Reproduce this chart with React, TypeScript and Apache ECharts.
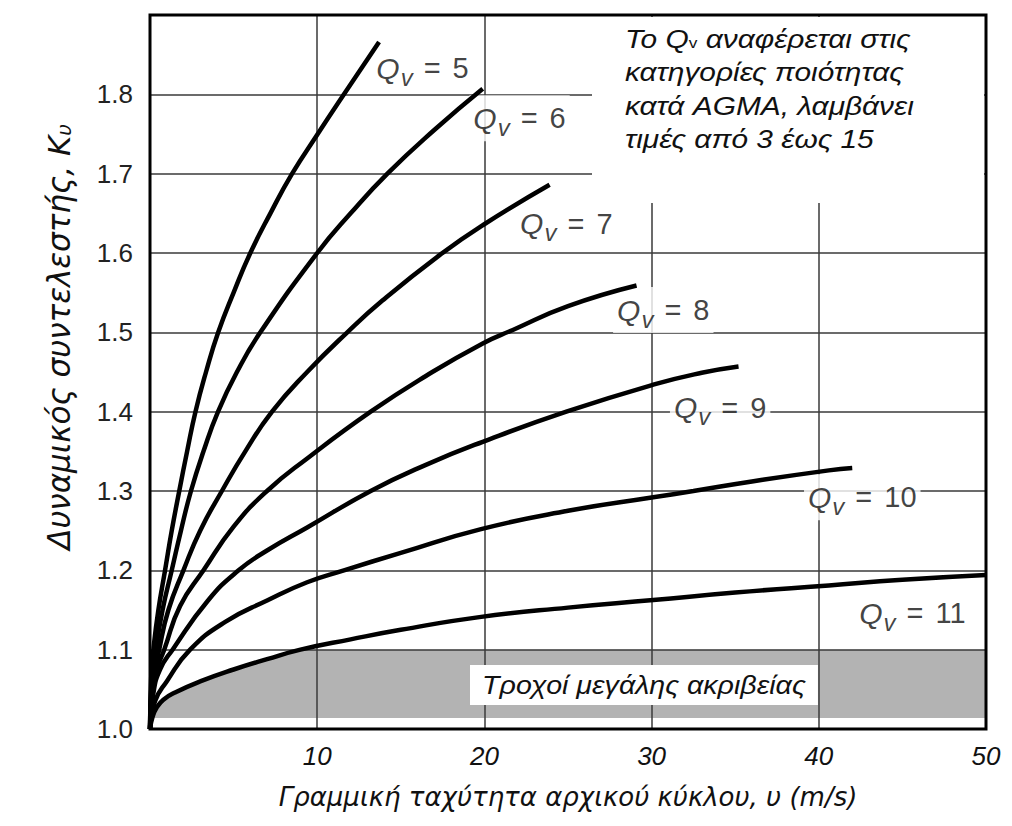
import React, { useEffect, useRef } from "react";
import * as echarts from "echarts";

// ---- data ----
const QV_LEVELS = [5, 6, 7, 8, 9, 10, 11];

const QV5: [number, number][] = [
  [0, 1], [0.08, 1.07], [0.2, 1.1], [0.5, 1.15], [0.9, 1.2], [1.3, 1.25], [1.75, 1.3],
  [2.22, 1.35], [2.72, 1.4], [3.35, 1.45], [4.08, 1.5], [5.0, 1.55], [6.0, 1.6],
  [7.2, 1.65], [8.5, 1.7], [10.0, 1.749], [11.6, 1.8], [13.7, 1.866],
];
const QV6: [number, number][] = [
  [0, 1], [0.1, 1.06], [0.35, 1.1], [0.75, 1.15], [1.3, 1.2], [1.85, 1.25], [2.45, 1.3],
  [3.2, 1.35], [4.07, 1.4], [5.2, 1.45], [6.6, 1.5], [10.0, 1.6], [12.0, 1.65],
  [14.2, 1.7], [17.0, 1.755], [19.9, 1.807],
];
const QV7: [number, number][] = [
  [0, 1], [0.12, 1.05], [0.55, 1.1], [1.1, 1.15], [2.0, 1.2], [3.0, 1.25], [4.3, 1.3],
  [5.7, 1.35], [7.3, 1.4], [9.4, 1.45], [11.8, 1.5], [13.9, 1.54], [17.3, 1.597],
  [19.9, 1.635], [23.9, 1.686],
];
const QV8: [number, number][] = [
  [0, 1], [0.15, 1.05], [0.4, 1.075], [0.85, 1.1], [1.8, 1.155], [3.2, 1.2], [5.0, 1.255],
  [7.0, 1.3], [9.4, 1.341], [13.2, 1.4], [16.5, 1.445], [19.9, 1.486], [21.7, 1.503],
  [25.0, 1.533], [29.1, 1.559],
];
const QV9: [number, number][] = [
  [0, 1], [0.2, 1.045], [0.6, 1.075], [1.35, 1.1], [3.47, 1.162], [5.3, 1.2], [7.0, 1.225],
  [9.4, 1.254], [13.2, 1.3], [16.5, 1.333], [19.9, 1.362], [24.9, 1.4], [30.1, 1.434],
  [33.0, 1.449], [35.2, 1.457],
];
const QV10: [number, number][] = [
  [0, 1], [0.3, 1.035], [1.0, 1.06], [2.4, 1.1], [4.5, 1.135], [7.0, 1.162], [9.4, 1.185],
  [11.6, 1.2], [15.0, 1.222], [19.8, 1.252], [25.0, 1.275], [30.1, 1.292], [32.5, 1.3],
  [36.0, 1.312], [40.6, 1.326], [42.0, 1.329],
];
const QV11: [number, number][] = [
  [0, 1], [0.15, 1.015], [0.4, 1.027], [0.8, 1.037], [1.5, 1.046], [3.0, 1.06], [5.0, 1.075],
  [7.0, 1.088], [9.0, 1.1], [12.0, 1.113], [15.0, 1.125], [19.7, 1.141], [25.0, 1.153],
  [30.1, 1.1625], [35.0, 1.172], [40.6, 1.181], [45.0, 1.188], [50.0, 1.194],
];
const CURVES = [QV5, QV6, QV7, QV8, QV9, QV10, QV11];

// label anchor (data coordinates) for each curve
const LABEL_POS: [number, number][] = [
  [16.3, 1.833], [22.1, 1.77], [24.9, 1.637], [30.7, 1.528], [34.1, 1.405], [42.6, 1.292], [45.6, 1.146],
];

const X_MIN = 0;
const X_MAX = 50;
const X_STEP = 10;
const Y_MIN = 1.0;
const Y_MAX = 1.9;
const Y_STEP = 0.1;
const BAND_TOP = 1.1;
const BAND_BOTTOM = 1.014;

const X_NAME = "Γραμμική ταχύτητα αρχικού κύκλου, υ (m/s)";
const Y_NAME = "Δυναμικός συντελεστής, K{s|υ}";
const NOTE_LINES = [
  "Το Q{s|v} αναφέρεται στις",
  "κατηγορίες ποιότητας",
  "κατά AGMA, λαμβάνει",
  "τιμές από 3 έως 15",
];
const BAND_LABEL = "Τροχοί μεγάλης ακριβείας";

const FONT = "'Liberation Sans', Arial, sans-serif";
const WIDE = "'DejaVu Sans', sans-serif";

export default function App() {
  const ref = useRef<HTMLDivElement>(null);

  useEffect(() => {
    if (!ref.current) return;
    const chart = echarts.init(ref.current, undefined, { renderer: "svg" });

    const curveSeries = CURVES.map((pts, i) => ({
      type: "line",
      name: "Qv=" + QV_LEVELS[i],
      data: pts,
      smooth: 0.5,
      symbol: "none",
      lineStyle: { color: "#000", width: 4.5 },
      z: 5,
      silent: true,
    }));

    const option: any = {
      animation: false,
      backgroundColor: "#fff",
      grid: {
        left: 150,
        right: 26,
        top: 15,
        bottom: 97,
        show: true,
        z: 7,
        backgroundColor: "transparent",
        borderColor: "#000",
        borderWidth: 3,
      },
      xAxis: {
        type: "value",
        min: X_MIN,
        max: X_MAX,
        interval: X_STEP,
        z: 3,
        axisLine: { show: false },
        axisTick: { show: false },
        splitLine: { show: true, lineStyle: { color: "#3a3a3a", width: 1.5 } },
        axisLabel: {
          showMinLabel: false,
          margin: 14,
          fontFamily: FONT,
          fontStyle: "italic",
          fontSize: 26,
          color: "#111",
        },
        name: X_NAME,
        nameLocation: "middle",
        nameGap: 55,
        nameTextStyle: {
          fontFamily: WIDE,
          fontStyle: "italic",
          fontSize: 26,
          color: "#111",
        },
      },
      yAxis: {
        type: "value",
        min: Y_MIN,
        max: Y_MAX,
        interval: Y_STEP,
        z: 3,
        axisLine: { show: false },
        axisTick: { show: false },
        splitLine: { show: true, lineStyle: { color: "#3a3a3a", width: 1.5 } },
        axisLabel: {
          showMaxLabel: false,
          margin: 17,
          fontFamily: FONT,
          fontSize: 26,
          color: "#222",
          padding: [10, 0, 0, 0],
          formatter: (v: number) => v.toFixed(1),
        },
        name: Y_NAME,
        nameLocation: "middle",
        nameGap: 76,
        nameTextStyle: {
          fontFamily: WIDE,
          fontStyle: "italic",
          fontSize: 31,
          color: "#111",
          padding: [0, 0, 0, 70],
          rich: {
            s: {
              fontFamily: WIDE,
              fontStyle: "italic",
              fontSize: 20,
              color: "#111",
              padding: [11, 0, 0, 0],
            },
          },
        },
      },
      series: [
        {
          type: "line",
          name: "band",
          data: QV11.map(([x, y]) => [x, Math.min(y, BAND_TOP)]),
          smooth: 0.5,
          symbol: "none",
          lineStyle: { width: 0 },
          areaStyle: { color: "#b3b3b3", opacity: 1, origin: "start" },
          z: 1,
          silent: true,
          markArea: {
            silent: true,
            z: 2,
            itemStyle: { color: "#fff" },
            data: [[{ xAxis: X_MIN, yAxis: Y_MIN }, { xAxis: X_MAX, yAxis: BAND_BOTTOM }]],
          },
        },
        {
          type: "scatter",
          name: "labels",
          data: LABEL_POS,
          symbolSize: 1,
          itemStyle: { color: "transparent" },
          z: 4,
          silent: true,
          label: {
            show: true,
            position: "inside",
            backgroundColor: "#fff",
            padding: [2, 4, 2, 4],
            formatter: (p: any) => `{q|Q}{v|v}{e|=}{n|${QV_LEVELS[p.dataIndex]}}`,
            rich: {
              q: { fontFamily: FONT, fontStyle: "italic", fontSize: 30, color: "#111" },
              v: { fontFamily: FONT, fontStyle: "italic", fontSize: 24, color: "#111", padding: [18, 0, 0, 1] },
              e: { fontFamily: FONT, fontSize: 29, color: "#111", padding: [0, 12, 0, 11] },
              n: { fontFamily: FONT, fontSize: 29, color: "#111" },
            },
          },
        },
        ...curveSeries,
      ],
      graphic: [
        {
          type: "rect",
          z: 100,
          shape: { x: 592, y: 17, width: 392, height: 186 },
          style: { fill: "#fff" },
        },
        {
          type: "text",
          z: 101,
          x: 625,
          y: 22,
          scaleX: 1.15,
          style: {
            text: NOTE_LINES.join("\n"),
            fontFamily: FONT,
            fontStyle: "italic",
            fontSize: 26,
            lineHeight: 33.5,
            fill: "#111",
            verticalAlign: "top",
            rich: {
              s: { fontFamily: FONT, fontSize: 15, fill: "#111", lineHeight: 33.5, padding: [8, 0, 0, 0] },
            },
          },
        },
        {
          type: "text",
          z: 101,
          x: 470,
          y: 665,
          scaleX: 1.1,
          style: {
            text: BAND_LABEL,
            fontFamily: FONT,
            fontStyle: "italic",
            fontSize: 26,
            fill: "#111",
            backgroundColor: "#fff",
            padding: [7, 11, 7, 11],
            verticalAlign: "top",
          },
        },
      ],
    };

    chart.setOption(option);
    return () => chart.dispose();
  }, []);

  return (
    <div
      ref={ref}
      style={{ position: "fixed", left: 0, top: 0, width: 1012, height: 826 }}
    />
  );
}
